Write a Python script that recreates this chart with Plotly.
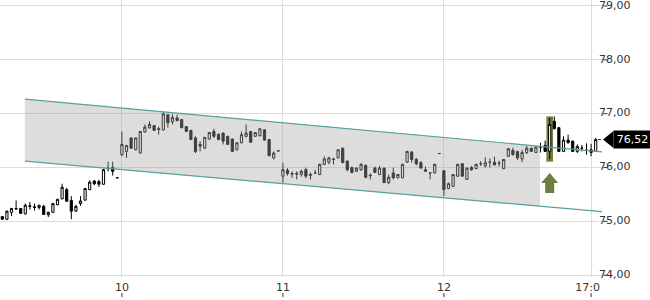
import plotly.graph_objects as go

# ---------------- data ----------------
opens = [75.09, 75.04, 75.17, 75.24, 75.24, 75.14, 75.29, 75.27, 75.26, 75.28,
         75.125, 75.17, 75.31, 75.42, 75.59, 75.39, 75.19, 75.33, 75.395, 75.59,
         75.75, 75.74, 75.69, 75.99, 76.00, 75.81, 76.24, 76.30, 76.55, 76.33,
         76.27, 76.66, 76.735, 76.78, 76.72, 76.70, 76.98, 76.85, 76.92, 76.89,
         76.76, 76.69, 76.55, 76.43, 76.36, 76.53, 76.67, 76.62, 76.64, 76.58,
         76.53, 76.33, 76.46, 76.58, 76.67, 76.58, 76.59, 76.70, 76.52, 76.18,
         76.31, 75.84, 75.95, 75.89, 75.89, 75.87, 75.96, 75.87, 75.90, 75.87,
         76.06, 76.10, 76.16, 76.18, 76.36, 76.12, 76.00, 75.93, 75.96, 76.04,
         75.86, 75.99, 75.87, 75.99, 75.72, 75.90, 75.81, 75.81, 76.10, 76.29,
         76.15, 76.09, 75.96, 75.90, 75.90, 76.26, 75.94, 75.61, 75.65, 75.84,
         76.07, 75.78, 76.00, 75.98, 76.07, 76.03, 76.10, 76.10, 76.08, 75.98,
         76.21, 76.32, 76.30, 76.16, 76.28, 76.36, 76.28, 76.38, 76.41, 76.30,
         76.86, 76.74, 76.30, 76.51, 76.49, 76.30, 76.36, 76.32, 76.33, 76.30]
highs = [75.10, 75.20, 75.25, 75.39, 75.25, 75.33, 75.36, 75.33, 75.31, 75.31,
         75.18, 75.34, 75.42, 75.70, 75.62, 75.47, 75.31, 75.47, 75.62, 75.76,
         75.77, 75.77, 75.97, 76.11, 76.11, 75.81, 76.67, 76.42, 76.56, 76.56,
         76.68, 76.80, 76.86, 76.79, 76.76, 77.04, 76.99, 76.99, 76.98, 76.90,
         76.77, 76.70, 76.58, 76.49, 76.57, 76.66, 76.72, 76.63, 76.65, 76.59,
         76.54, 76.47, 76.67, 76.80, 76.68, 76.66, 76.73, 76.71, 76.53, 76.30,
         76.31, 76.09, 75.99, 75.93, 75.93, 75.96, 76.00, 75.91, 75.96, 76.07,
         76.21, 76.20, 76.18, 76.34, 76.37, 76.13, 76.02, 76.00, 76.08, 76.06,
         75.89, 76.02, 76.03, 76.00, 75.87, 76.00, 75.88, 76.07, 76.31, 76.30,
         76.18, 76.12, 76.02, 75.90, 76.07, 76.26, 75.95, 75.72, 75.88, 76.07,
         76.08, 76.00, 76.03, 76.07, 76.12, 76.19, 76.17, 76.20, 76.13, 76.16,
         76.36, 76.37, 76.31, 76.33, 76.40, 76.37, 76.40, 76.46, 76.50, 76.92,
         76.95, 76.75, 76.58, 76.61, 76.50, 76.43, 76.42, 76.45, 76.44, 76.55]
lows = [75.03, 75.03, 75.10, 75.22, 75.14, 75.13, 75.22, 75.20, 75.22, 75.12,
        75.08, 75.16, 75.30, 75.41, 75.37, 75.04, 75.18, 75.29, 75.39, 75.58,
        75.67, 75.64, 75.68, 75.93, 75.85, 75.81, 76.21, 76.18, 76.35, 76.32,
        76.26, 76.65, 76.73, 76.68, 76.61, 76.69, 76.74, 76.80, 76.86, 76.73,
        76.66, 76.51, 76.27, 76.30, 76.35, 76.52, 76.55, 76.51, 76.43, 76.42,
        76.29, 76.32, 76.45, 76.56, 76.46, 76.57, 76.58, 76.50, 76.21, 76.15,
        76.31, 75.72, 75.85, 75.81, 75.78, 75.83, 75.80, 75.78, 75.89, 75.86,
        76.05, 76.06, 76.06, 76.17, 76.09, 75.93, 75.89, 75.92, 75.94, 75.80,
        75.78, 75.90, 75.86, 75.72, 75.69, 75.78, 75.80, 75.80, 76.09, 76.09,
        76.04, 75.98, 75.92, 75.78, 75.89, 76.26, 75.47, 75.60, 75.64, 75.83,
        75.83, 75.77, 75.94, 75.97, 76.03, 76.00, 76.00, 76.04, 76.02, 75.97,
        76.20, 76.22, 76.14, 76.10, 76.25, 76.29, 76.27, 76.28, 76.29, 76.16,
        76.71, 76.29, 76.29, 76.45, 76.29, 76.27, 76.30, 76.24, 76.21, 76.29]
closes = [75.04, 75.19, 75.24, 75.23, 75.15, 75.30, 75.28, 75.26, 75.30, 75.13,
          75.17, 75.33, 75.41, 75.635, 75.375, 75.19, 75.28, 75.38, 75.61, 75.73,
          75.70, 75.69, 75.96, 75.98, 75.93, 75.81, 76.43, 76.41, 76.36, 76.55,
          76.67, 76.75, 76.80, 76.69, 76.71, 76.995, 76.83, 76.93, 76.87, 76.74,
          76.67, 76.52, 76.30, 76.40, 76.56, 76.65, 76.58, 76.52, 76.49, 76.43,
          76.30, 76.46, 76.61, 76.64, 76.47, 76.65, 76.72, 76.51, 76.22, 76.27,
          76.31, 75.96, 75.89, 75.88, 75.88, 75.93, 75.84, 75.86, 75.90, 76.06,
          76.16, 76.18, 76.15, 76.33, 76.09, 75.96, 75.91, 75.99, 76.06, 75.82,
          75.85, 75.91, 75.99, 75.72, 75.82, 75.81, 75.87, 76.06, 76.30, 76.15,
          76.07, 75.99, 75.93, 75.90, 76.06, 76.26, 75.59, 75.70, 75.87, 76.06,
          75.84, 75.99, 75.96, 76.06, 76.07, 76.09, 76.10, 76.05, 76.08, 76.15,
          76.35, 76.24, 76.18, 76.28, 76.36, 76.30, 76.38, 76.38, 76.30, 76.80,
          76.72, 76.30, 76.51, 76.46, 76.30, 76.39, 76.36, 76.32, 76.28, 76.52]
candle_idx = list(range(len(closes)))

tick_idx = [26, 61, 96, 128]
tick_text = ["10", "11", "12", "17:00"]

price_ticks = [74, 75, 76, 77, 78, 79]

channel_idx = [4.9, 130.4]
channel_upper = [77.27, 76.29]
channel_lower = [76.12, 75.18]
fill_idx = [4.9, 116.9]
fill_upper = [77.27, 76.40]
fill_lower = [76.12, 75.28]

signal_idx = 119
signal_high = 76.95
signal_low = 76.11
arrow_top = 75.90
last_price = 76.52
last_price_text = "76,52"

# ---------------- styling ----------------
FONT = "DejaVu Sans"
TEAL = "#55a0a0"
OLIVE = "#6e7e3c"
GRID = "#dcdcdc"
TXT = "#333333"


def de_fmt(v):
    return f"{v:.2f}".replace(".", ",")


fig = go.Figure()

# channel fill
fig.add_trace(go.Scatter(
    x=[fill_idx[0], fill_idx[1], fill_idx[1], fill_idx[0]],
    y=[fill_upper[0], fill_upper[1], fill_lower[1], fill_lower[0]],
    fill="toself", fillcolor="rgba(165,165,165,0.38)",
    mode="lines", line=dict(width=0), hoverinfo="skip", showlegend=False))
# channel lines
for ys in (channel_upper, channel_lower):
    fig.add_trace(go.Scatter(x=channel_idx, y=ys, mode="lines",
                             line=dict(color=TEAL, width=1.2),
                             hoverinfo="skip", showlegend=False))

fig.add_trace(go.Candlestick(
    x=candle_idx, open=opens, high=highs, low=lows, close=closes,
    increasing=dict(line=dict(color="black", width=1), fillcolor="white"),
    decreasing=dict(line=dict(color="black", width=1), fillcolor="black"),
    whiskerwidth=0, showlegend=False))

# price axis labels, drawn as text on an overlay axis spanning the plot width
fig.add_trace(go.Scatter(
    x=[0.995] * len(price_ticks), y=price_ticks, xaxis="x2", yaxis="y",
    mode="text", text=[de_fmt(p) for p in price_ticks],
    textposition="middle right", cliponaxis=False,
    textfont=dict(family=FONT, size=11, color=TXT),
    hoverinfo="skip", showlegend=False))

shapes = []
# signal highlight behind the breakout candle
shapes.append(dict(type="rect", xref="x", yref="y", layer="between",
                   x0=signal_idx - 0.72, x1=signal_idx + 0.72,
                   y0=signal_low, y1=signal_high,
                   fillcolor=OLIVE, line=dict(width=0)))
# up arrow under the signal candle
shapes.append(dict(type="path", xref="x", yref="y",
                   xsizemode="pixel", ysizemode="pixel",
                   xanchor=signal_idx, yanchor=arrow_top,
                   path="M0,0 L8.5,-10 L4.5,-10 L4.5,-20 L-4.5,-20 L-4.5,-10 L-8.5,-10 Z",
                   fillcolor=OLIVE, line=dict(width=0)))
# pointer of the last price flag and its small tick
shapes.append(dict(type="path", xref="paper", yref="y",
                   xsizemode="pixel", ysizemode="pixel",
                   xanchor=1, yanchor=last_price,
                   path="M1,0 L11.5,8.5 L11.5,-8.5 Z",
                   fillcolor="black", line=dict(width=0), layer="above"))
shapes.append(dict(type="line", xref="paper", yref="y",
                   xsizemode="pixel", xanchor=1, x0=-4, x1=-1,
                   y0=last_price, y1=last_price,
                   line=dict(color=TXT, width=1), layer="above"))
# price axis tick dashes
for p in price_ticks:
    shapes.append(dict(type="line", xref="paper", yref="y",
                       xsizemode="pixel", xanchor=1, x0=1.5, x1=5.5,
                       y0=p, y1=p, line=dict(color=TXT, width=1),
                       layer="above"))
# x tick marks below the labels
for t in tick_idx:
    shapes.append(dict(type="line", xref="x", yref="paper",
                       ysizemode="pixel", yanchor=0,
                       x0=t, x1=t, y0=-16, y1=-20,
                       line=dict(color=TXT, width=1)))
# clip the last time label at the plot edge
shapes.append(dict(type="rect", xref="paper", yref="paper",
                   x0=600 / 602, x1=1.1, y0=-0.017, y1=-0.057,
                   fillcolor="white", line=dict(width=0), layer="above"))

annotations = [dict(xref="paper", yref="y", x=1, y=last_price,
                    xanchor="left", yanchor="middle", xshift=11,
                    width=37, height=17, borderpad=0, bgcolor="black",
                    align="center", valign="middle",
                    text=last_price_text, showarrow=False,
                    font=dict(family=FONT, size=11, color="white"))]

fig.update_layout(
    width=650, height=300,
    margin=dict(l=0, r=48, t=0, b=23),
    paper_bgcolor="white", plot_bgcolor="white",
    font=dict(family=FONT, size=11, color=TXT),
    boxgap=0.32,
    shapes=shapes,
    annotations=annotations,
    xaxis=dict(range=[-0.5, 130.37], tickvals=tick_idx, ticktext=tick_text,
               showgrid=True, gridcolor=GRID, gridwidth=1, zeroline=False,
               showline=False, ticks="", rangeslider=dict(visible=False),
               ticklabeloverflow="allow", ticklabelstandoff=2,
               tickfont=dict(family=FONT, size=11, color=TXT), fixedrange=True),
    xaxis2=dict(overlaying="x", range=[0, 1.0], visible=False,
                fixedrange=True, anchor="y"),
    yaxis=dict(range=[73.968, 79.111], side="right", tickvals=price_ticks,
               showticklabels=False, showgrid=True, gridcolor=GRID, gridwidth=1,
               zeroline=False, showline=False, ticks="", fixedrange=True),
    hovermode=False,
)

fig.write_html("out.html", config=dict(displayModeBar=False))
